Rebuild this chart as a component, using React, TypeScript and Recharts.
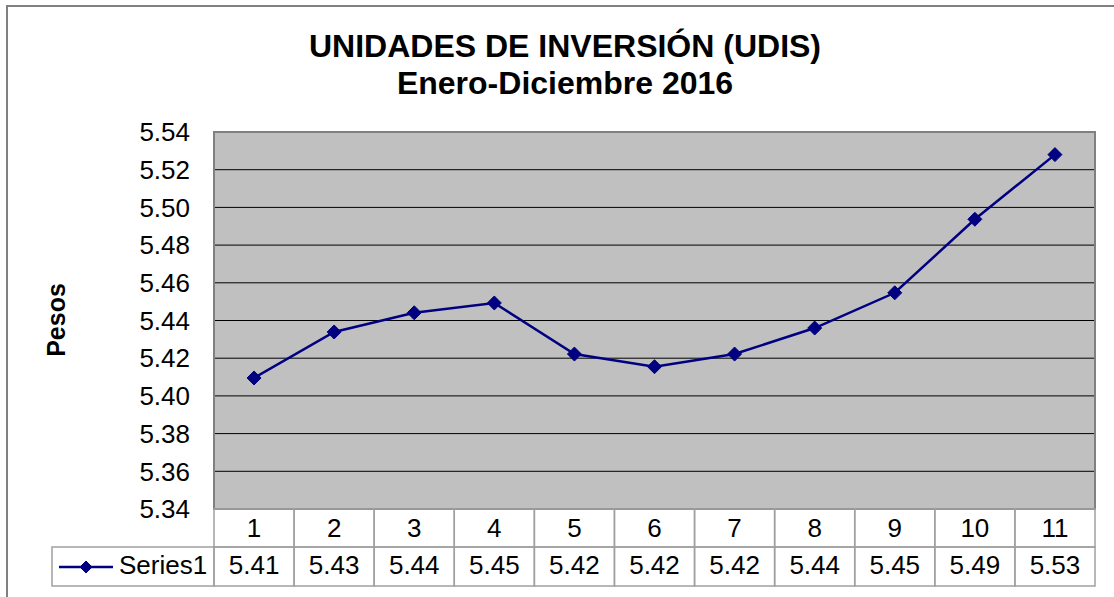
import { LineChart, Line, XAxis, YAxis, CartesianGrid, ReferenceArea } from "recharts";

// values
const categories = ["1", "2", "3", "4", "5", "6", "7", "8", "9", "10", "11"];
const udis = [5.4095, 5.4339, 5.4441, 5.4493, 5.4222, 5.4155, 5.4222, 5.436, 5.4547, 5.4937, 5.528];
const tableValues = ["5.41", "5.43", "5.44", "5.45", "5.42", "5.42", "5.42", "5.44", "5.45", "5.49", "5.53"];
const yTicks = [5.34, 5.36, 5.38, 5.4, 5.42, 5.44, 5.46, 5.48, 5.5, 5.52, 5.54];
const seriesName = "Series1";
const titleLines = ["UNIDADES DE INVERSIÓN (UDIS)", "Enero-Diciembre 2016"];
const yLabel = "Pesos";

const W = 1114;
const H = 597;
const PLOT_LEFT = 214;
const PLOT_RIGHT = 1095;
const CELL = (PLOT_RIGHT - PLOT_LEFT) / categories.length;
const ROW = 38;
const LEGEND_W = 162;
const NAVY = "#000080";
const TABLE_LINE = "#a0a0a0";
const FONT = '"Liberation Sans", Arial, sans-serif';
const LAST = categories.length - 1;

const data = categories.map((cat, i) => ({ cat, value: udis[i] }));

function diamondPath(cx: number, cy: number, r: number) {
  return `M${cx},${cy - r}L${cx + r},${cy}L${cx},${cy + r}L${cx - r},${cy}Z`;
}

function TableTick(props: any) {
  const { x, y, payload } = props;
  const i = payload.index ?? props.index;
  const left = x - CELL / 2;
  return (
    <g>
      <rect x={left} y={y} width={CELL} height={ROW} fill="none" stroke={TABLE_LINE} strokeWidth={1.5} />
      <rect x={left} y={y + ROW} width={CELL} height={ROW + 1} fill="none" stroke={TABLE_LINE} strokeWidth={1.5} />
      <text x={x} y={y + 28} textAnchor="middle" fontSize={26} fontFamily={FONT} fill="#000">
        {payload.value}
      </text>
      <text x={x} y={y + 65} textAnchor="middle" fontSize={26} fontFamily={FONT} fill="#000">
        {tableValues[i]}
      </text>
      {i === 0 && (
        <g>
          <rect x={left - LEGEND_W} y={y + ROW} width={LEGEND_W} height={ROW + 1} fill="none" stroke={TABLE_LINE} strokeWidth={1.5} />
          <line x1={left - 155} x2={left - 101} y1={y + 58} y2={y + 58} stroke={NAVY} strokeWidth={2.5} />
          <path d={diamondPath(left - 128, y + 58, 6)} fill={NAVY} stroke={NAVY} />
          <text x={left - 95} y={y + 65} fontSize={26} fontFamily={FONT} fill="#000">
            {seriesName}
          </text>
        </g>
      )}
    </g>
  );
}

function DiamondDot(props: any) {
  const { cx, cy, index } = props;
  return <path key={`d-${index}`} d={diamondPath(cx, cy, 7)} fill={NAVY} stroke={NAVY} />;
}

export default function App() {
  return (
    <div style={{ position: "fixed", left: 0, top: 0, width: W, height: H, overflow: "hidden", background: "#fff" }}>
      <div
        style={{
          position: "absolute",
          left: 6,
          top: 5,
          width: 1200,
          height: 700,
          border: "2px solid #808080",
        }}
      />
      <div style={{ position: "absolute", left: 0, top: 0 }}>
        <LineChart width={W} height={H} data={data} margin={{ top: 132, right: 19, bottom: 10, left: 14 }}>
          <CartesianGrid horizontal vertical={false} stroke="#000" fill="#c0c0c0" fillOpacity={1} />
          <XAxis
            dataKey="cat"
            type="category"
            interval={0}
            height={78}
            padding={{ left: CELL / 2, right: CELL / 2 }}
            axisLine={false}
            tickLine={false}
            tickSize={0}
            tickMargin={0}
            tick={<TableTick />}
          />
          {/* hidden full-width axis, only used to frame the plot area */}
          <XAxis xAxisId="frame" type="number" domain={[0, LAST]} allowDataOverflow hide height={0} />
          <YAxis
            type="number"
            domain={[5.34, 5.54]}
            ticks={yTicks}
            interval={0}
            allowDataOverflow
            width={200}
            axisLine={false}
            tickLine={false}
            tickSize={6}
            tickMargin={18}
            tick={{ fontSize: 26, fill: "#000", fontFamily: FONT }}
            tickFormatter={(v: number) => v.toFixed(2)}
          />
          <ReferenceArea
            xAxisId="frame"
            x1={0}
            x2={LAST}
            y1={5.34}
            y2={5.54}
            fill="none"
            stroke="#808080"
            strokeWidth={2}
            ifOverflow="visible"
          />
          <Line
            type="linear"
            dataKey="value"
            stroke={NAVY}
            strokeWidth={2.5}
            dot={<DiamondDot />}
            activeDot={false}
            isAnimationActive={false}
          />
        </LineChart>
      </div>
      <svg width={W} height={H} style={{ position: "absolute", left: 0, top: 0, pointerEvents: "none" }}>
        <text x={565} y={57} textAnchor="middle" fontSize={32} fontWeight="bold" fontFamily={FONT} fill="#000">
          {titleLines[0]}
        </text>
        <text x={565} y={94} textAnchor="middle" fontSize={32} fontWeight="bold" fontFamily={FONT} fill="#000">
          {titleLines[1]}
        </text>
        <text
          x={65}
          y={320}
          textAnchor="middle"
          fontSize={25}
          fontWeight="bold"
          fontFamily={FONT}
          fill="#000"
          transform="rotate(-90 65 320)"
        >
          {yLabel}
        </text>
      </svg>
    </div>
  );
}
